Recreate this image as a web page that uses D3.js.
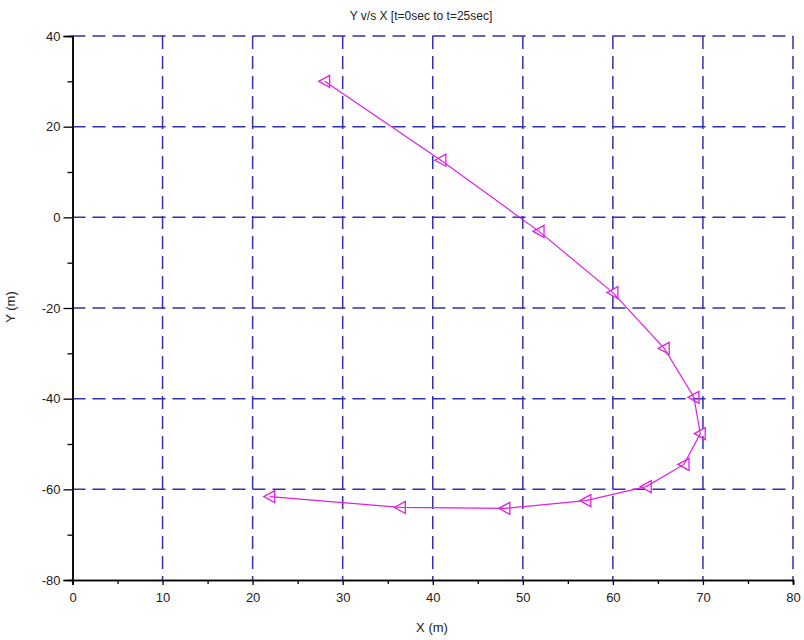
<!DOCTYPE html>
<html>
<head>
<meta charset="utf-8">
<script src="https://cdn.jsdelivr.net/npm/d3@7"></script>
<style>
  body { margin: 0; background: #fff; }
  text { font-family: "Liberation Sans", Arial, sans-serif; fill: #222; }
</style>
</head>
<body>
<div id="chart"></div>
<script>
// trajectory samples (marker positions)
var xValues = [28, 40.9, 51.8, 60.0, 65.7, 69.0, 69.7, 67.9, 63.7, 57.0, 48.0, 36.4, 21.9];
var yValues = [30, 12.6, -3.1, -16.6, -28.9, -39.7, -47.7, -54.5, -59.4, -62.5, -64.2, -64.0, -61.6];
var xTicks = [0, 10, 20, 30, 40, 50, 60, 70, 80];
var yTicks = [40, 20, 0, -20, -40, -60, -80];

var width = 804, height = 640;
var svg = d3.select('#chart').append('svg')
    .attr('width', width)
    .attr('height', height);

var x = d3.scaleLinear().domain([0, 80]).range([72.5, 793]);
var y = d3.scaleLinear().domain([-80, 40]).range([580, 36]);

// dashed grid
var gridColor = '#3030b0';
svg.append('g').selectAll('line').data(xTicks.slice(1))
  .enter().append('line')
    .attr('x1', function(d) { return x(d); })
    .attr('x2', function(d) { return x(d); })
    .attr('y1', y(40)).attr('y2', y(-80))
    .attr('stroke', gridColor).attr('stroke-width', 1.5)
    .attr('stroke-dasharray', '13,7');
svg.append('g').selectAll('line').data(yTicks.slice(0, -1))
  .enter().append('line')
    .attr('x1', x(0)).attr('x2', x(80))
    .attr('y1', function(d) { return y(d); })
    .attr('y2', function(d) { return y(d); })
    .attr('stroke', gridColor).attr('stroke-width', 1.5)
    .attr('stroke-dasharray', '13,7');

// axes (plain hyphen for negatives, like the original)
var plain = function(d) { return String(d); };
var xAxis = d3.axisBottom(x).tickValues(xTicks).tickSize(5).tickPadding(8).tickFormat(plain);
var yAxis = d3.axisLeft(y).tickValues(yTicks).tickSize(9).tickPadding(3).tickFormat(plain);
var xMinor = d3.axisBottom(x).tickValues(d3.range(5, 80, 10)).tickSize(4).tickFormat('');
var yMinor = d3.axisLeft(y).tickValues(d3.range(-70, 40, 20)).tickSize(5).tickFormat('');

function styleAxis(g) {
  g.select('.domain').attr('stroke', '#000').attr('stroke-width', 1.5);
  g.selectAll('.tick line').attr('stroke', '#000').attr('stroke-width', 1.3);
  g.selectAll('.tick text').style('font-size', '13px').attr('fill', '#222')
    .style('font-family', '"Liberation Sans", Arial, sans-serif');
}

svg.append('g').attr('transform', 'translate(0,' + y(-80) + ')').call(xMinor).call(styleAxis);
svg.append('g').attr('transform', 'translate(' + x(0) + ',0)').call(yMinor).call(styleAxis);
svg.append('g').attr('transform', 'translate(0,' + y(-80) + ')').call(xAxis).call(styleAxis);
svg.append('g').attr('transform', 'translate(' + x(0) + ',0)').call(yAxis).call(styleAxis);

// trajectory
var pts = xValues.map(function(d, i) { return [d, yValues[i]]; });
var lineGen = d3.line().x(function(d) { return x(d[0]); }).y(function(d) { return y(d[1]); });
var magenta = '#e020e0';
svg.append('path').datum(pts)
    .attr('d', lineGen)
    .attr('fill', 'none')
    .attr('stroke', magenta)
    .attr('stroke-width', 1.2);

// left-pointing triangle markers
svg.append('g').selectAll('path').data(pts)
  .enter().append('path')
    .attr('transform', function(d) { return 'translate(' + x(d[0]) + ',' + y(d[1]) + ')'; })
    .attr('d', 'M-6,0L5,-6L5,6Z')
    .attr('fill', 'none')
    .attr('stroke', magenta)
    .attr('stroke-width', 1.3);

// texts
svg.append('text')
    .attr('x', 421).attr('y', 20)
    .attr('text-anchor', 'middle')
    .style('font-size', '12px')
    .text('Y v/s X [t=0sec to t=25sec]');
svg.append('text')
    .attr('x', 432).attr('y', 632)
    .attr('text-anchor', 'middle')
    .style('font-size', '13px')
    .text('X (m)');
svg.append('text')
    .attr('transform', 'translate(15,307) rotate(-90)')
    .attr('text-anchor', 'middle')
    .style('font-size', '13px')
    .text('Y (m)');
</script>
</body>
</html>
